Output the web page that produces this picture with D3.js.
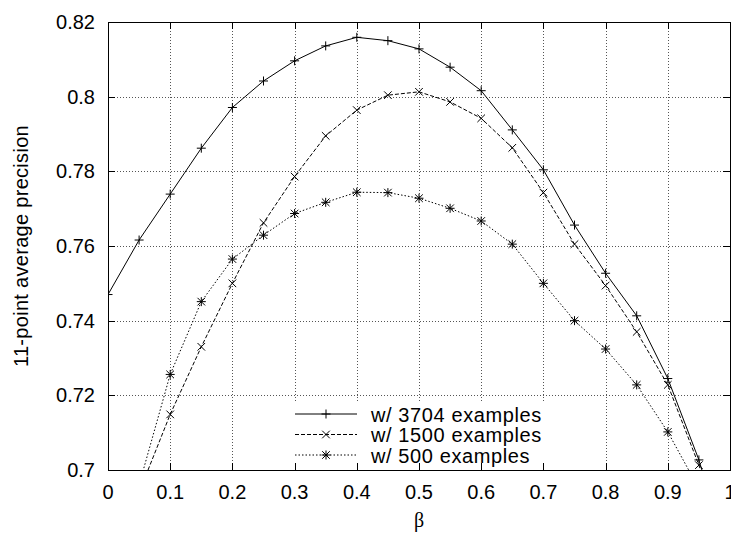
<!DOCTYPE html>
<html>
<head>
<meta charset="utf-8">
<script src="https://cdn.jsdelivr.net/npm/d3@7"></script>
<style>
body { margin: 0; background: #fff; }
svg text { font-family: "Liberation Sans", Arial, Helvetica, sans-serif; font-size: 20px; fill: #000; }
</style>
</head>
<body>
<script>
var width = 731;
var height = 534;

// beta values (x) and 11-point average precision per training set size
var beta3704 = [0, 0.05, 0.1, 0.15, 0.2, 0.25, 0.3, 0.35, 0.4, 0.45, 0.5, 0.55, 0.6, 0.65, 0.7, 0.75, 0.8, 0.85, 0.9, 0.95, 1.0];
var prec3704 = [0.747, 0.7616, 0.7739, 0.7862, 0.7971, 0.8042, 0.8096, 0.8136, 0.8159, 0.8150, 0.8128, 0.8079, 0.8016, 0.7911, 0.7804, 0.7656, 0.7527, 0.7413, 0.7245, 0.7027, 0.675];

var beta1500 = [0.05, 0.1, 0.15, 0.2, 0.25, 0.3, 0.35, 0.4, 0.45, 0.5, 0.55, 0.6, 0.65, 0.7, 0.75, 0.8, 0.85, 0.9, 0.95, 1.0];
var prec1500 = [0.694, 0.7149, 0.7330, 0.7500, 0.7662, 0.7786, 0.7895, 0.7964, 0.8004, 0.8013, 0.7986, 0.7942, 0.7863, 0.7743, 0.7605, 0.7494, 0.7370, 0.7228, 0.7013, 0.676];

var beta500 = [0.05, 0.1, 0.15, 0.2, 0.25, 0.3, 0.35, 0.4, 0.45, 0.5, 0.55, 0.6, 0.65, 0.7, 0.75, 0.8, 0.85, 0.9, 0.95];
var prec500 = [0.696, 0.7256, 0.7451, 0.7565, 0.7629, 0.7687, 0.7717, 0.7744, 0.7743, 0.7728, 0.7701, 0.7667, 0.7605, 0.7500, 0.7400, 0.7324, 0.7228, 0.7102, 0.695];

var seriesNames = ["w/ 3704 examples", "w/ 1500 examples", "w/ 500 examples"];
var xTicks = [0, 0.1, 0.2, 0.3, 0.4, 0.5, 0.6, 0.7, 0.8, 0.9, 1];
var yTicks = [0.7, 0.72, 0.74, 0.76, 0.78, 0.8, 0.82];

var pLeft = 108, pRight = 730, pTop = 22, pBottom = 470;

var x = d3.scaleLinear().domain([0, 1]).range([pLeft, pRight]);
var y = d3.scaleLinear().domain([0.7, 0.82]).range([pBottom, pTop]);

var svg = d3.select("body")
  .append("svg")
  .attr("width", width)
  .attr("height", height);

svg.append("clipPath").attr("id", "plotclip")
  .append("rect")
  .attr("x", pLeft).attr("y", pTop)
  .attr("width", pRight - pLeft).attr("height", pBottom - pTop);

// grid
var grid = svg.append("g")
  .attr("stroke", "#555")
  .attr("stroke-width", 1)
  .attr("stroke-dasharray", "1,2");
grid.selectAll(".gx").data(xTicks.slice(1, -1)).enter()
  .append("line")
  .attr("x1", d => Math.round(x(d)) + 0.5).attr("x2", d => Math.round(x(d)) + 0.5)
  .attr("y1", pTop).attr("y2", pBottom);
grid.selectAll(".gy").data(yTicks.slice(1, -1)).enter()
  .append("line")
  .attr("y1", d => Math.round(y(d)) + 0.5).attr("y2", d => Math.round(y(d)) + 0.5)
  .attr("x1", pLeft).attr("x2", pRight);

// legend area hides the grid
var legX = 295, legY = 414;
svg.append("rect")
  .attr("x", 290).attr("y", 403)
  .attr("width", 258).attr("height", pBottom - 403)
  .attr("fill", "#fff");

// ticks (inward, all four sides)
var tickLen = 7;
var ticks = svg.append("g").attr("stroke", "#000").attr("stroke-width", 1);
xTicks.forEach(function(d) {
  var px = Math.round(x(d)) + 0.5;
  ticks.append("line").attr("x1", px).attr("x2", px).attr("y1", pBottom).attr("y2", pBottom - tickLen);
  ticks.append("line").attr("x1", px).attr("x2", px).attr("y1", pTop).attr("y2", pTop + tickLen);
});
yTicks.forEach(function(d) {
  var py = Math.round(y(d)) + 0.5;
  ticks.append("line").attr("y1", py).attr("y2", py).attr("x1", pLeft).attr("x2", pLeft + tickLen);
  ticks.append("line").attr("y1", py).attr("y2", py).attr("x1", pRight).attr("x2", pRight - tickLen);
});

// frame
svg.append("rect")
  .attr("x", pLeft + 0.5).attr("y", pTop + 0.5)
  .attr("width", pRight - pLeft).attr("height", pBottom - pTop)
  .attr("fill", "none").attr("stroke", "#000").attr("stroke-width", 1);

// tick labels
svg.selectAll(".xl").data(xTicks).enter()
  .append("text")
  .attr("x", d => x(d))
  .attr("y", 499)
  .attr("text-anchor", "middle")
  .text(d => d3.format("~g")(d));
svg.selectAll(".yl").data(yTicks).enter()
  .append("text")
  .attr("x", 95)
  .attr("y", d => y(d) + 7)
  .attr("text-anchor", "end")
  .text(d => d3.format("~g")(d));

// axis titles
svg.append("text")
  .attr("x", 419).attr("y", 527)
  .attr("text-anchor", "middle")
  .style("font-family", "'Liberation Serif', 'DejaVu Serif', serif")
  .text("β");
svg.append("text")
  .attr("transform", "translate(28," + ((pTop + pBottom) / 2) + ") rotate(-90)")
  .attr("text-anchor", "middle")
  .style("letter-spacing", "0.3px")
  .text("11-point average precision");

// markers
var plusPath = "M-4.5,0H4.5M0,-4.5V4.5";
var crossPath = "M-3.8,-3.8L3.8,3.8M-3.8,3.8L3.8,-3.8";
var starPath = plusPath + crossPath;

var series = [
  { name: seriesNames[0], xs: beta3704, ys: prec3704, dash: null, marker: plusPath },
  { name: seriesNames[1], xs: beta1500, ys: prec1500, dash: "4,2", marker: crossPath },
  { name: seriesNames[2], xs: beta500, ys: prec500, dash: "1.5,2", marker: starPath }
];

var line = d3.line().x(d => x(d[0])).y(d => y(d[1]));
var plot = svg.append("g").attr("clip-path", "url(#plotclip)");

series.forEach(function(s) {
  var pts = s.xs.map((b, i) => [b, s.ys[i]]);
  plot.append("path")
    .attr("d", line(pts))
    .attr("fill", "none")
    .attr("stroke", "#000")
    .attr("stroke-width", 1)
    .attr("stroke-dasharray", s.dash);
  plot.selectAll(null).data(pts).enter()
    .append("path")
    .attr("d", s.marker)
    .attr("transform", d => "translate(" + x(d[0]) + "," + y(d[1]) + ")")
    .attr("fill", "none")
    .attr("stroke", "#000")
    .attr("stroke-width", 1);
});

// legend
series.forEach(function(s, i) {
  var ly = legY + i * 20.5;
  svg.append("line")
    .attr("x1", legX).attr("x2", legX + 62)
    .attr("y1", ly).attr("y2", ly)
    .attr("stroke", "#000").attr("stroke-width", 1)
    .attr("stroke-dasharray", s.dash);
  svg.append("path")
    .attr("d", s.marker)
    .attr("transform", "translate(" + (legX + 31) + "," + ly + ")")
    .attr("fill", "none").attr("stroke", "#000");
  svg.append("text")
    .attr("x", 371).attr("y", ly + 7.5)
    .style("letter-spacing", "0.6px")
    .text(s.name);
});
</script>
</body>
</html>
